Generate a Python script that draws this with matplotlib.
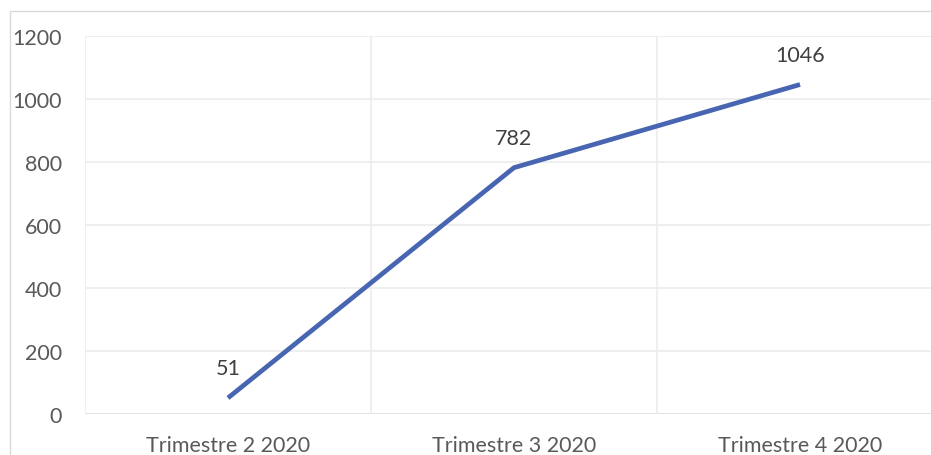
import matplotlib
matplotlib.use("Agg")
import matplotlib.pyplot as plt
from matplotlib.patches import Rectangle

categories = ["Trimestre 2 2020", "Trimestre 3 2020", "Trimestre 4 2020"]
values = [51, 782, 1046]
yticks = [0, 200, 400, 600, 800, 1000, 1200]

W, H = 931, 456
fig = plt.figure(figsize=(W / 100, H / 100), dpi=100)
plt.rcParams['font.family'] = ['Lato', 'DejaVu Sans']

# figure border (chart area outline, cropped at right/bottom)
fig.patches.append(Rectangle((10 / W, -0.2), 1.2, (H - 12) / H + 0.2,
                             transform=fig.transFigure, fill=False,
                             edgecolor="#D9D9D9", lw=1.0))

left, right = 85, 943
top, bottom = 37, 415
ax = fig.add_axes([left / W, 1 - bottom / H, (right - left) / W, (bottom - top) / H])
ax.set_xlim(-0.5, len(categories) - 0.5)
ax.set_ylim(0, 1200)

fs = 15.5
for s in ax.spines.values():
    s.set_visible(False)
ax.set_yticks(yticks)
ax.set_yticklabels([str(v) for v in yticks], fontsize=fs, color="#595959")
ax.set_xticks(range(len(categories)))
ax.set_xticklabels(categories, fontsize=fs, color="#595959")
ax.tick_params(length=0)
ax.tick_params(axis='y', pad=16.5)
ax.tick_params(axis='x', pad=15)

for y in yticks:
    ax.axhline(y, color="#ECECEC" if y else "#DCDCDC", lw=1.2, zorder=0)
for xb in [-0.5, 0.5, 1.5]:
    ax.axvline(xb, color="#ECECEC", lw=1.2, zorder=0)

x = list(range(len(categories)))
ax.plot(x, values, color="#4765B1", lw=3.4, solid_capstyle="butt", zorder=3)
for xi, v in zip(x, values):
    ax.annotate(str(v), (xi, v), xytext=(0, 21.5), textcoords="offset points",
                ha="center", va="center", fontsize=fs, color="#404040")

fig.savefig("out.png", dpi=100)
